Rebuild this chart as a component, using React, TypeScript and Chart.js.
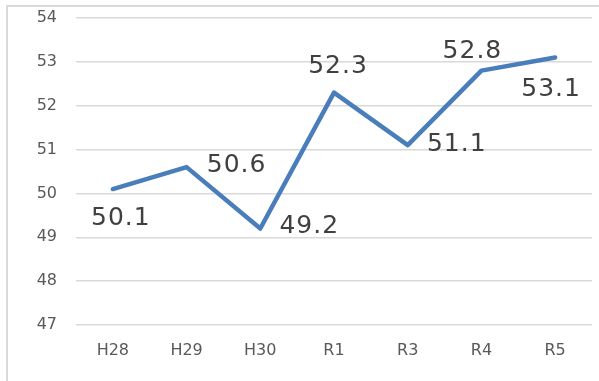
import React, { useEffect, useRef } from "react";
import { Chart, registerables } from "chart.js";

Chart.register(...registerables);

// Survey years and the recorded values
const categories = ["H28", "H29", "H30", "R1", "R3", "R4", "R5"];
const values = [50.1, 50.6, 49.2, 52.3, 51.1, 52.8, 53.1];
const yTicks = [47, 48, 49, 50, 51, 52, 53, 54];

// Where each value label sits relative to its point (dx, dy in px)
const labelOffsets: [number, number][] = [
  [8, 29],
  [50, -2],
  [49, -2],
  [4, -26],
  [49, -1],
  [-9, -19],
  [-4, 32],
];

const LINE_BLUE = "#4a7ebb";
const GRID = "#d9d9d9";
const TICK_TEXT = "#595959";
const LABEL_TEXT = "#404040";
const FONT = "'DejaVu Sans', Verdana, sans-serif";

const frame = {
  id: "frame",
  beforeDraw(chart: Chart) {
    const { ctx, width, height } = chart;
    ctx.save();
    ctx.fillStyle = "#ffffff";
    ctx.fillRect(0, 0, width, height);
    ctx.fillStyle = GRID;
    ctx.fillRect(6, 5, 2, height - 5);
    ctx.fillRect(6, 5, width - 6, 2);
    ctx.restore();
  },
};

const valueLabels = {
  id: "valueLabels",
  afterDatasetsDraw(chart: Chart) {
    const { ctx } = chart;
    const meta = chart.getDatasetMeta(0);
    ctx.save();
    ctx.font = `25px ${FONT}`;
    (ctx as any).letterSpacing = "1px";
    ctx.fillStyle = LABEL_TEXT;
    ctx.textAlign = "center";
    ctx.textBaseline = "middle";
    meta.data.forEach((pt: any, i: number) => {
      const [dx, dy] = labelOffsets[i];
      ctx.fillText(values[i].toFixed(1), pt.x + dx, pt.y + dy);
    });
    ctx.restore();
  },
};

export default function App() {
  const canvasRef = useRef<HTMLCanvasElement | null>(null);

  useEffect(() => {
    const canvas = canvasRef.current;
    if (!canvas) return;
    const chart = new Chart(canvas, {
      type: "line",
      data: {
        labels: categories,
        datasets: [
          {
            data: values,
            borderColor: LINE_BLUE,
            borderWidth: 4.5,
            borderJoinStyle: "round",
            borderCapStyle: "round",
            pointRadius: 0,
            tension: 0,
            fill: false,
          },
        ],
      },
      options: {
        responsive: false,
        animation: false,
        devicePixelRatio: 1,
        layout: { padding: { top: 18, right: 7, left: 0, bottom: 0 } },
        plugins: {
          legend: { display: false },
          tooltip: { enabled: false },
        },
        scales: {
          x: {
            offset: true,
            grid: { display: false, drawTicks: false },
            border: { display: false },
            ticks: {
              color: TICK_TEXT,
              font: { family: FONT, size: 16 },
              padding: 16,
              maxRotation: 0,
            },
            afterFit(scale: any) {
              scale.height = 56;
            },
          },
          y: {
            min: yTicks[0],
            max: yTicks[yTicks.length - 1],
            grid: {
              color: GRID,
              lineWidth: 1.5,
              drawTicks: true,
              tickLength: 17,
              tickColor: "rgba(0,0,0,0)",
            },
            border: { display: false },
            afterBuildTicks(scale: any) {
              scale.ticks = yTicks.map((v) => ({ value: v }));
            },
            ticks: {
              color: TICK_TEXT,
              font: { family: FONT, size: 16 },
              padding: 2,
            },
            afterFit(scale: any) {
              scale.width = 76;
            },
          },
        },
      },
      plugins: [frame, valueLabels],
    });
    return () => chart.destroy();
  }, []);

  return (
    <div style={{ position: "fixed", left: 0, top: 0, width: 599, height: 381, background: "#fff" }}>
      <canvas ref={canvasRef} width={599} height={381} style={{ display: "block" }} />
    </div>
  );
}
